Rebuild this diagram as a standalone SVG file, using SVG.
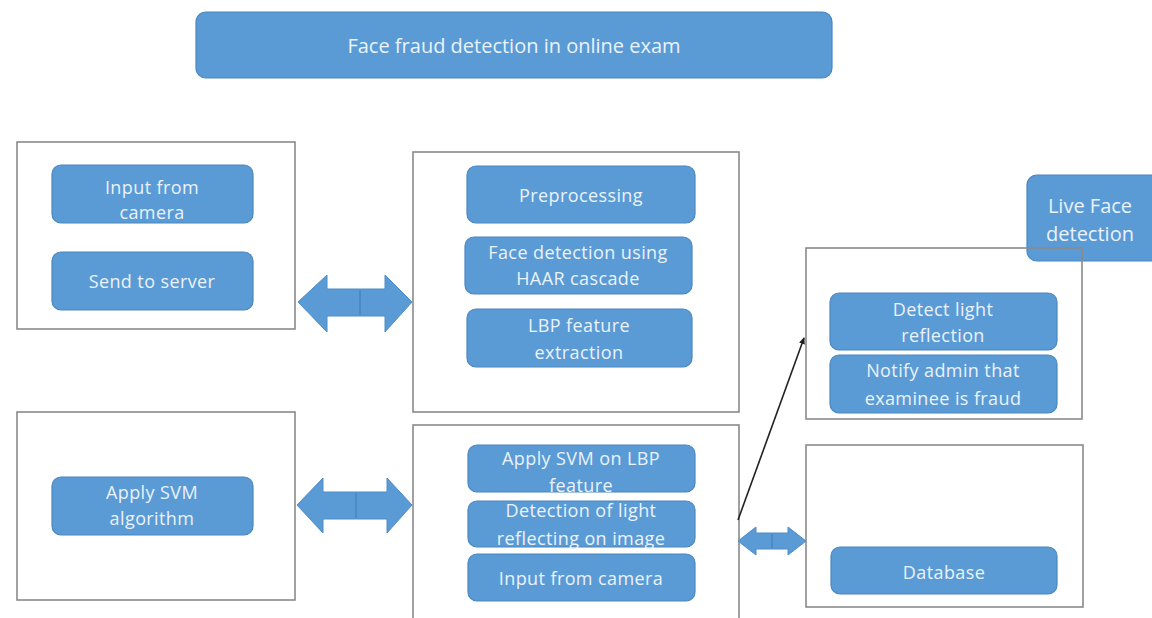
<svg xmlns="http://www.w3.org/2000/svg" width="1152" height="618" viewBox="0 0 1152 618">
<defs>
<style>
.frame{fill:#ffffff;stroke:#8a8a8a;stroke-width:1.6}
.pill{fill:#5b9bd5;stroke:#4a86c0;stroke-width:1.2}
.t{font-family:"Open Sans","Liberation Sans",sans-serif;font-size:18px;letter-spacing:0.4px;fill:#eaf2fb;text-anchor:middle;dominant-baseline:central}
.dbl{fill:#5b9bd5;stroke:#4f8cc6;stroke-width:1}
.div{stroke:#3f7bb5;stroke-width:1}
.conn{stroke:#222;stroke-width:1.6;fill:none}
</style>
<marker id="ah" markerWidth="8" markerHeight="8" refX="6" refY="4" orient="auto" markerUnits="userSpaceOnUse">
<path d="M0,1 L7,4 L0,7 Z" fill="#222"/>
</marker>
</defs>
<rect width="1152" height="618" fill="#ffffff"/>

<g id="title">
<rect class="pill" x="196" y="12" width="636" height="66" rx="10"/>
<text class="t" x="514" y="45" style="font-size:20px;letter-spacing:0">Face fraud detection in online exam</text>
</g>

<g id="live-face">
<rect class="pill" x="1027" y="175" width="135" height="86" rx="10"/>
<text class="t" x="1090" y="205" style="font-size:20px;letter-spacing:0">Live Face</text>
<text class="t" x="1090" y="233" style="font-size:20px;letter-spacing:0">detection</text>
</g>

<g id="client-box">
<rect class="frame" x="17" y="142" width="278" height="187"/>
<g id="input-camera-1">
<rect class="pill" x="52" y="165" width="201" height="58" rx="9"/>
<text class="t" x="152" y="187">Input from</text>
<text class="t" x="152" y="212">camera</text>
</g>
<g id="send-server">
<rect class="pill" x="52" y="252" width="201" height="58" rx="9"/>
<text class="t" x="152" y="281">Send to server</text>
</g>
</g>

<g id="server-box">
<rect class="frame" x="413" y="152" width="326" height="260"/>
<g id="preprocessing">
<rect class="pill" x="467" y="166" width="228" height="57" rx="9"/>
<text class="t" x="581" y="195">Preprocessing</text>
</g>
<g id="face-detection">
<rect class="pill" x="465" y="237" width="227" height="57" rx="9"/>
<text class="t" x="578" y="252">Face detection using</text>
<text class="t" x="578" y="278">HAAR cascade</text>
</g>
<g id="lbp">
<rect class="pill" x="467" y="309" width="225" height="58" rx="9"/>
<text class="t" x="579" y="325">LBP feature</text>
<text class="t" x="579" y="352">extraction</text>
</g>
</g>

<g id="svm-box">
<rect class="frame" x="17" y="412" width="278" height="188"/>
<g id="apply-svm">
<rect class="pill" x="52" y="477" width="201" height="58" rx="9"/>
<text class="t" x="152" y="492">Apply SVM</text>
<text class="t" x="152" y="518">algorithm</text>
</g>
</g>

<g id="detect-box">
<rect class="frame" x="413" y="425" width="326" height="220"/>
<g id="svm-lbp">
<rect class="pill" x="468" y="445" width="227" height="47" rx="9"/>
<text class="t" x="581" y="458">Apply SVM on LBP</text>
<text class="t" x="581" y="485">feature</text>
</g>
<g id="light-detect">
<rect class="pill" x="468" y="501" width="227" height="46" rx="9"/>
<text class="t" x="581" y="510">Detection of light</text>
<text class="t" x="581" y="538">reflecting on image</text>
</g>
<g id="input-camera-2">
<rect class="pill" x="468" y="554" width="227" height="47" rx="9"/>
<text class="t" x="581" y="578">Input from camera</text>
</g>
</g>

<g id="result-box">
<rect class="frame" x="806" y="248" width="276" height="171" style="fill:none"/>
<g id="detect-reflection">
<rect class="pill" x="830" y="293" width="227" height="57" rx="9"/>
<text class="t" x="943" y="309">Detect light</text>
<text class="t" x="943" y="335">reflection</text>
</g>
<g id="notify-admin">
<rect class="pill" x="830" y="355" width="227" height="58" rx="9"/>
<text class="t" x="943" y="370">Notify admin that</text>
<text class="t" x="943" y="398">examinee is fraud</text>
</g>
</g>

<g id="db-box">
<rect class="frame" x="806" y="445" width="277" height="162"/>
<g id="database">
<rect class="pill" x="831" y="547" width="226" height="47" rx="9"/>
<text class="t" x="944" y="572">Database</text>
</g>
</g>

<g id="connectors">
<polygon class="dbl" points="298,302 327,275 327,289 385,289 385,275 412,302 385,332 385,316 327,316 327,332"/>
<line class="div" x1="360" y1="290" x2="360" y2="315"/>
<polygon class="dbl" points="297,505 323,478 323,492 387,492 387,478 412,505 387,533 387,519 323,519 323,533"/>
<line class="div" x1="356" y1="493" x2="356" y2="518"/>
<polygon class="dbl" points="738,541 756,527 756,533 788,533 788,527 806,541 788,555 788,549 756,549 756,555"/>
<line class="div" x1="772" y1="534" x2="772" y2="548"/>
<line class="conn" x1="738" y1="520" x2="804" y2="338" marker-end="url(#ah)"/>
</g>
</svg>
